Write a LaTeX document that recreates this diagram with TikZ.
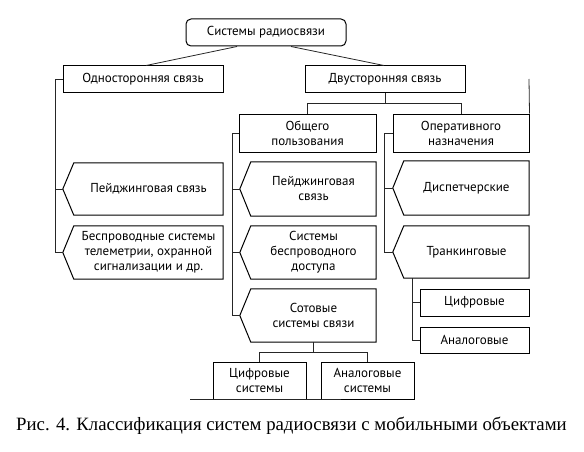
\documentclass[tikz,border=0pt]{standalone}
\usepackage{fontspec}
\setmainfont{PT Sans}
\newfontfamily\capfont{Liberation Serif}
\usetikzlibrary{calc}
\newcommand\mypentagon[1]{%
  \draw[boxline] (#1.north west) -- (#1.north east) -- (#1.south east) -- (#1.south west) -- ([xshift=-11pt]#1.west) -- cycle;
  \coordinate (#1t) at ([xshift=-11pt]#1.west);}
\begin{document}
\begin{tikzpicture}[x=1pt,y=-1pt,
  boxline/.style={line width=1pt, draw=black},
  conn/.style={line width=0.8pt, draw=black!85},
  lbl/.style={font=\fontsize{13}{15}\selectfont, align=center, inner sep=0pt, text=black},
  rbox/.style={lbl, draw=black, line width=1pt, minimum width=#1},
  pbox/.style={lbl, minimum width=#1},
]
\useasboundingbox (0,0) rectangle (584,452);
% top
\node[rbox=160pt, minimum height=27pt, rounded corners=5pt] (top) at (266,32.5) {Системы радиосвязи};
\node[rbox=160pt, minimum height=27pt] (one) at (143,79.5) {Односторонняя связь};
\node[rbox=160pt, minimum height=27pt] (two) at (385,79.5) {Двусторонняя связь};
\node[rbox=137pt, minimum height=38pt] (gen) at (307.5,133) {Общего\\пользования};
\node[rbox=136pt, minimum height=38pt] (oper) at (461,133) {Оперативного\\назначения};
% left column
\node[pbox=149pt, minimum height=52pt] (lp) at (148.5,189) {Пейджинговая связь};
\node[pbox=149pt, minimum height=53pt] (lb) at (148.5,252.5) {Беспроводные системы\\телеметрии, охранной\\сигнализации и др.};
\mypentagon{lp}
\mypentagon{lb}
% middle column
\node[pbox=125pt, minimum height=54pt] (mp) at (313.5,189) {Пейджинговая\\связь};
\node[pbox=125pt, minimum height=53pt] (ms) at (313.5,252.5) {Системы\\беспроводного\\доступа};
\node[pbox=125pt, minimum height=53pt] (mc) at (313.5,315.5) {Сотовые\\системы связи};
\mypentagon{mp}
\mypentagon{ms}
\mypentagon{mc}
% right column
\node[pbox=125pt, minimum height=54pt] (rd) at (466.5,188) {Диспетчерские};
\node[pbox=125pt, minimum height=52pt] (rt) at (466.5,252) {Транкинговые};
\mypentagon{rd}
\mypentagon{rt}
\node[rbox=109pt, minimum height=27pt] (rdig) at (474.5,302.5) {Цифровые};
\node[rbox=109pt, minimum height=26pt] (ran) at (474.5,340) {Аналоговые};
% bottom
\node[rbox=93pt, minimum height=37pt] (bdig) at (259.5,380.5) {Цифровые\\системы};
\node[rbox=93pt, minimum height=37pt] (ban) at (367.5,380.5) {Аналоговые\\системы};
% connectors
\draw[conn] ([xshift=-29pt]top.south) -- ([xshift=3pt]one.north);
\draw[conn] ([xshift=25pt]top.south) -- ([xshift=-1pt]two.north);
\coordinate (lbus) at (55,0);
\draw[conn] (one.west) -- (one.west -| lbus) -- (lbt -| lbus) -- (lbt);
\draw[conn] (lpt -| lbus) -- (lpt);
\coordinate (twoj) at (385,103);
\draw[conn] (two.south) -- (twoj);
\draw[conn] (gen.north) -- (gen.north |- twoj) -- (oper.north |- twoj) -- (oper.north);
\coordinate (gbus) at (232,0);
\draw[conn] (gen.west) -- (gen.west -| gbus) -- (mct -| gbus) -- (mct);
\draw[conn] (mpt -| gbus) -- (mpt);
\draw[conn] (mst -| gbus) -- (mst);
\coordinate (obus) at (384,0);
\draw[conn] (oper.west) -- (oper.west -| obus) -- (rtt -| obus) -- (rtt);
\draw[conn] (rdt -| obus) -- (rdt);
\coordinate (tbus) at (412,0);
\draw[conn] (rt.south -| tbus) -- (ran.west -| tbus) -- (ran.west);
\draw[conn] (rdig.west -| tbus) -- (rdig.west);
\coordinate (cj) at (313,352);
\draw[conn] (mc.south -| cj) -- (cj);
\draw[conn] (bdig.north) -- (bdig.north |- cj) -- (ban.north |- cj) -- (ban.north);
% edge artefacts shown in the picture
\coordinate (ea) at (529,79);
\draw[conn] (ea) -- (oper.north east);
\coordinate (eb) at (190,399);
\coordinate (ec) at (341,399);
\draw[conn] (eb) -- (ec);
% caption
\node[font=\capfont\fontsize{18.8}{20}\selectfont, anchor=base, inner sep=0pt] (cap) at (291.5,430) {Рис. 4. Классификация систем радиосвязи с мобильными объектами};
\end{tikzpicture}
\end{document}
